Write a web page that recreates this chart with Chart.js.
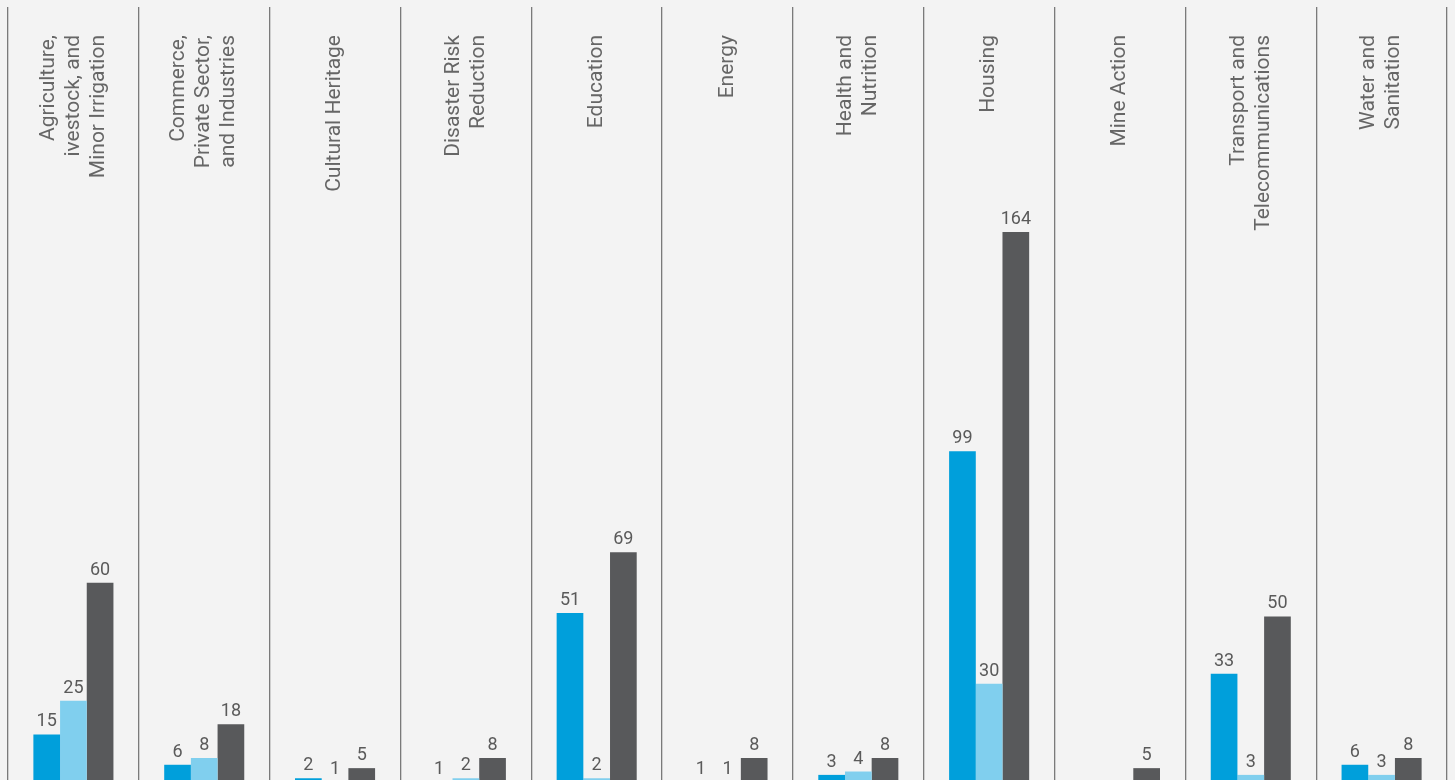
<!DOCTYPE html>
<html>
<head>
<meta charset="utf-8">
<script src="https://cdn.jsdelivr.net/npm/chart.js@4"></script>
<style>
  html, body { margin: 0; padding: 0; overflow: hidden; background: #f3f3f3; }
  #wrap { width: 1455px; height: 785px; position: relative; }
</style>
</head>
<body>
<div id="wrap"><canvas id="c"></canvas></div>
<script>
const categories = [
  ["Agriculture,", "ivestock, and", "Minor Irrigation"],
  ["Commerce,", "Private Sector,", "and Industries"],
  ["Cultural Heritage"],
  ["Disaster Risk", "Reduction"],
  ["Education"],
  ["Energy"],
  ["Health and", "Nutrition"],
  ["Housing"],
  ["Mine Action"],
  ["Transport and", "Telecommunications"],
  ["Water and", "Sanitation"]
];
const seriesA = [15, 6, 2, 1, 51, 1, 3, 99, 0, 33, 6];
const seriesB = [25, 8, 1, 2, 2, 1, 4, 30, 0, 3, 3];
const seriesC = [60, 18, 5, 8, 69, 8, 8, 164, 5, 50, 8];

const colors = ["#009fdb", "#80cfee", "#58595b"];

const labelsPlugin = {
  id: "labelsPlugin",
  afterDatasetsDraw(chart) {
    const ctx = chart.ctx;
    const xs = chart.scales.x;
    ctx.save();
    // value labels
    ctx.font = "18px Roboto";
    ctx.fillStyle = "#5a5a5a";
    ctx.textAlign = "center";
    ctx.textBaseline = "alphabetic";
    chart.data.datasets.forEach((ds, di) => {
      const meta = chart.getDatasetMeta(di);
      meta.data.forEach((bar, i) => {
        const v = ds.data[i];
        if (!v) return;
        ctx.fillText(String(Math.round(v)), bar.x, bar.y - 8);
      });
    });
    // category labels, rotated
    ctx.font = "21px Roboto";
    ctx.fillStyle = "#666666";
    ctx.textAlign = "right";
    ctx.textBaseline = "middle";
    categories.forEach((lines, i) => {
      const cx = xs.getPixelForValue(i);
      const n = lines.length;
      lines.forEach((line, k) => {
        const x = cx + (k - (n - 1) / 2) * 25;
        ctx.save();
        ctx.translate(x, 35);
        ctx.rotate(-Math.PI / 2);
        ctx.fillText(line, 0, 0);
        ctx.restore();
      });
    });
    ctx.restore();
  }
};

new Chart(document.getElementById("c"), {
  type: "bar",
  data: {
    labels: categories.map(l => l.join(" ")),
    datasets: [
      { data: seriesA, backgroundColor: colors[0] },
      { data: seriesB, backgroundColor: colors[1] },
      { data: seriesC, backgroundColor: colors[2] }
    ]
  },
  options: {
    responsive: true,
    maintainAspectRatio: false,
    animation: false,
    layout: { padding: { left: 8, right: 8, top: 7, bottom: 0 } },
    plugins: { legend: { display: false }, tooltip: { enabled: false } },
    datasets: { bar: { categoryPercentage: 0.612, barPercentage: 1.0 } },
    scales: {
      x: {
        display: true,
        grid: { display: true, offset: true, drawTicks: false, color: "#7a7a7a", lineWidth: 1.3 },
        border: { display: false },
        ticks: { display: false }
      },
      y: {
        display: false,
        min: 0,
        max: 230.7
      }
    }
  },
  plugins: [labelsPlugin]
});
</script>
</body>
</html>
